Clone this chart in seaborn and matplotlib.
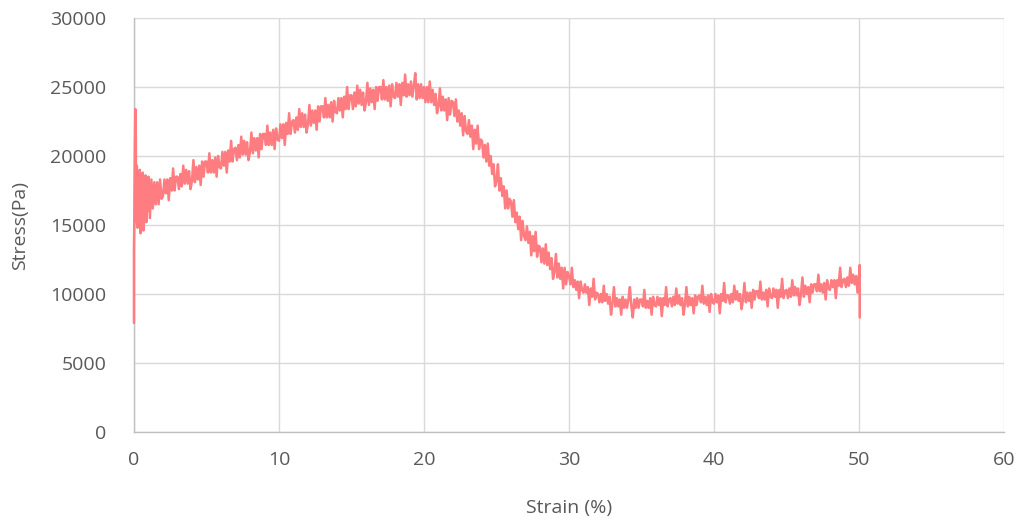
import numpy as np
import matplotlib
matplotlib.use("Agg")
import matplotlib.pyplot as plt
import seaborn as sns

# Start-up transient: dense readings close to zero strain
strain_start = [0.0, 0.0, 0.02, 0.05, 0.09, 0.12, 0.15, 0.2, 0.25, 0.3, 0.35, 0.4,
                0.45, 0.5, 0.55, 0.6, 0.65, 0.7, 0.75, 0.8, 0.85, 0.9, 0.95]
stress_start = [7900, 13200, 15000, 19500, 23400, 23200, 15200, 19300, 14800, 18900,
                15300, 19000, 14400, 18500, 15600, 18800, 14600, 18300, 15800, 18600,
                15200, 18200, 16000]

# Main run: readings every 0.1 % strain from 1.0 % to 49.9 % (one row per 1 %)
stress_main = [
    18500, 15500, 18300, 16200, 18100, 16500, 18100, 16500, 18300, 16900,  # 1
    17100, 18300, 17300, 18300, 16800, 18400, 17500, 19100, 17500, 18500,  # 2
    18500, 17600, 18700, 17800, 19300, 18000, 19000, 18000, 18900, 17600,  # 3
    18200, 19700, 18100, 19200, 18300, 19300, 17900, 19600, 18500, 19600,  # 4
    19600, 18800, 20200, 18800, 19700, 18800, 19900, 18500, 20000, 19200,  # 5
    19100, 20300, 19300, 20300, 18800, 20400, 19600, 21100, 19600, 20500,  # 6
    20600, 19700, 20800, 19900, 21400, 20100, 21100, 20100, 21000, 19700,  # 7
    20300, 21700, 20200, 21300, 20400, 21300, 19900, 21600, 20500, 21600,  # 8
    21600, 20800, 22200, 20800, 21700, 20800, 21900, 20500, 22000, 21200,  # 9
    21100, 22300, 21300, 22300, 20800, 22400, 21600, 23100, 21600, 22500,  # 10
    22600, 21700, 22800, 21900, 23400, 22100, 23100, 22100, 23000, 21700,  # 11
    22300, 23700, 22200, 23300, 22400, 23300, 21900, 23600, 22500, 23600,  # 12
    23600, 22800, 24200, 22800, 23700, 22800, 23900, 22500, 24000, 23200,  # 13
    23100, 24200, 23300, 24200, 22800, 24300, 23400, 25000, 23400, 24400,  # 14
    24400, 23400, 24600, 23600, 25100, 23800, 24800, 23700, 24600, 23300,  # 15
    23900, 25300, 23700, 24900, 23900, 24800, 23400, 25000, 24000, 25000,  # 16
    25000, 24100, 25500, 24100, 25000, 24000, 25100, 23600, 25200, 24300,  # 17
    24200, 25300, 24300, 25200, 23700, 25300, 24400, 25900, 24300, 25200,  # 18
    24400, 25400, 24300, 25100, 26000, 24100, 25200, 24200, 25200, 24200,  # 19
    25000, 23900, 25000, 23900, 25400, 23900, 24800, 23700, 24500, 23100,  # 20
    23600, 24900, 23300, 24300, 23300, 24100, 22600, 24200, 23000, 24000,  # 21
    23900, 22900, 24100, 22500, 23300, 22200, 23100, 21500, 22900, 21800,  # 22
    21600, 22600, 21400, 22200, 20500, 21900, 20900, 22200, 20500, 21200,  # 23
    21100, 19900, 20800, 19600, 20900, 19300, 20000, 18700, 19400, 17800,  # 24
    18200, 19400, 17500, 18400, 17100, 17800, 16200, 17500, 16200, 16900,  # 25
    16700, 15600, 16800, 15200, 15900, 14700, 15600, 13900, 15300, 14200,  # 26
    13900, 14900, 13700, 14500, 12800, 14200, 13100, 14500, 12700, 13500,  # 27
    13400, 12300, 13300, 12200, 13600, 12100, 13000, 11800, 12600, 11100,  # 28
    11600, 12900, 11200, 12200, 11100, 11900, 10400, 11900, 10700, 11600,  # 29
    11300, 10700, 11900, 10500, 11000, 10300, 10900, 9700, 10900, 10300,   # 30
    10100, 10700, 10100, 10500, 9200, 10400, 9800, 11100, 9600, 10100,     # 31
    10000, 9400, 10000, 9400, 10600, 9500, 10000, 9300, 9800, 8500,        # 32
    9300, 10500, 9100, 9700, 9100, 9600, 8500, 9800, 9000, 9600,          # 33
    9000, 9600, 10500, 9100, 8300, 9600, 9000, 9700, 9000, 9600,          # 34
    9600, 9100, 10300, 9000, 9500, 9000, 9700, 8500, 9800, 9200,          # 35
    9100, 9800, 9200, 9700, 8400, 9700, 9200, 10500, 9100, 9600,          # 36
    9700, 9100, 9800, 9200, 10400, 9300, 9900, 9200, 9700, 8500,          # 37
    9300, 10500, 9100, 9800, 9200, 9700, 8600, 9900, 9200, 9800,          # 38
    9900, 9400, 10600, 9300, 9800, 9200, 9900, 8700, 10000, 9400,         # 39
    9300, 10000, 9400, 9900, 8600, 10000, 9500, 10800, 9400, 9900,        # 40
    9900, 9300, 10000, 9400, 10600, 9600, 10200, 9500, 10000, 8900,       # 41
    9600, 10800, 9400, 10100, 9500, 10100, 9000, 10300, 9600, 10200,      # 42
    10200, 9700, 10900, 9600, 10100, 9600, 10300, 9100, 10400, 9800,      # 43
    9700, 10400, 9800, 10300, 9000, 10300, 9800, 11100, 9700, 10200,      # 44
    10300, 9700, 10400, 9800, 11000, 9900, 10500, 9900, 10400, 9200,      # 45
    10000, 11200, 9800, 10600, 10000, 10500, 9400, 10700, 10100, 10700,   # 46
    10700, 10200, 11400, 10200, 10700, 10100, 10800, 9600, 11000, 10400,  # 47
    10300, 11000, 10500, 11000, 9700, 11000, 10600, 11900, 10500, 11000,  # 48
    11100, 10500, 11200, 10600, 11900, 10800, 11400, 10700, 11300, 10100, # 49
]
strain_main = list(np.round(np.linspace(1.0, 49.9, len(stress_main)), 1))

# Unloading at the end of the run
strain_end = [50.0, 50.05, 50.05]
stress_end = [11300, 12100, 8300]

strain = strain_start + strain_main + strain_end
stress = stress_start + stress_main + stress_end

x_ticks = [0, 10, 20, 30, 40, 50, 60]
y_ticks = [0, 5000, 10000, 15000, 20000, 25000, 30000]

sns.set_theme(style="white")
plt.rcParams["font.family"] = ["Open Sans", "DejaVu Sans"]

text_color = "#595959"
grid_color = "#D9D9D9"

fig = plt.figure(figsize=(10.25, 5.24), dpi=100)
ax = fig.add_axes([0.1307, 0.1756, 0.8488, 0.790])

sns.lineplot(x=strain, y=stress, sort=False, estimator=None, ax=ax,
             color="#FF7C80", linewidth=1.8, zorder=3, clip_on=False)

ax.set_xlim(0, 60)
ax.set_ylim(0, 30000)
ax.set_xticks(x_ticks)
ax.set_yticks(y_ticks)
ax.set_xticklabels([str(t) for t in x_ticks])
ax.set_yticklabels([str(t) for t in y_ticks])

ax.grid(True, color=grid_color, linewidth=1.0)
ax.set_axisbelow(True)
for side in ["top", "right"]:
    ax.spines[side].set_visible(False)
for side in ["left", "bottom"]:
    ax.spines[side].set_color("#BFBFBF")
    ax.spines[side].set_linewidth(1.0)

ax.tick_params(axis="both", length=0, labelsize=14, labelcolor=text_color)
ax.tick_params(axis="y", pad=20)
ax.tick_params(axis="x", pad=14)

ax.set_xlabel("Strain (%)", fontsize=14, color=text_color, labelpad=21)
ax.set_ylabel("Stress(Pa)", fontsize=14, color=text_color, labelpad=15)

fig.savefig("out.png", dpi=100)
